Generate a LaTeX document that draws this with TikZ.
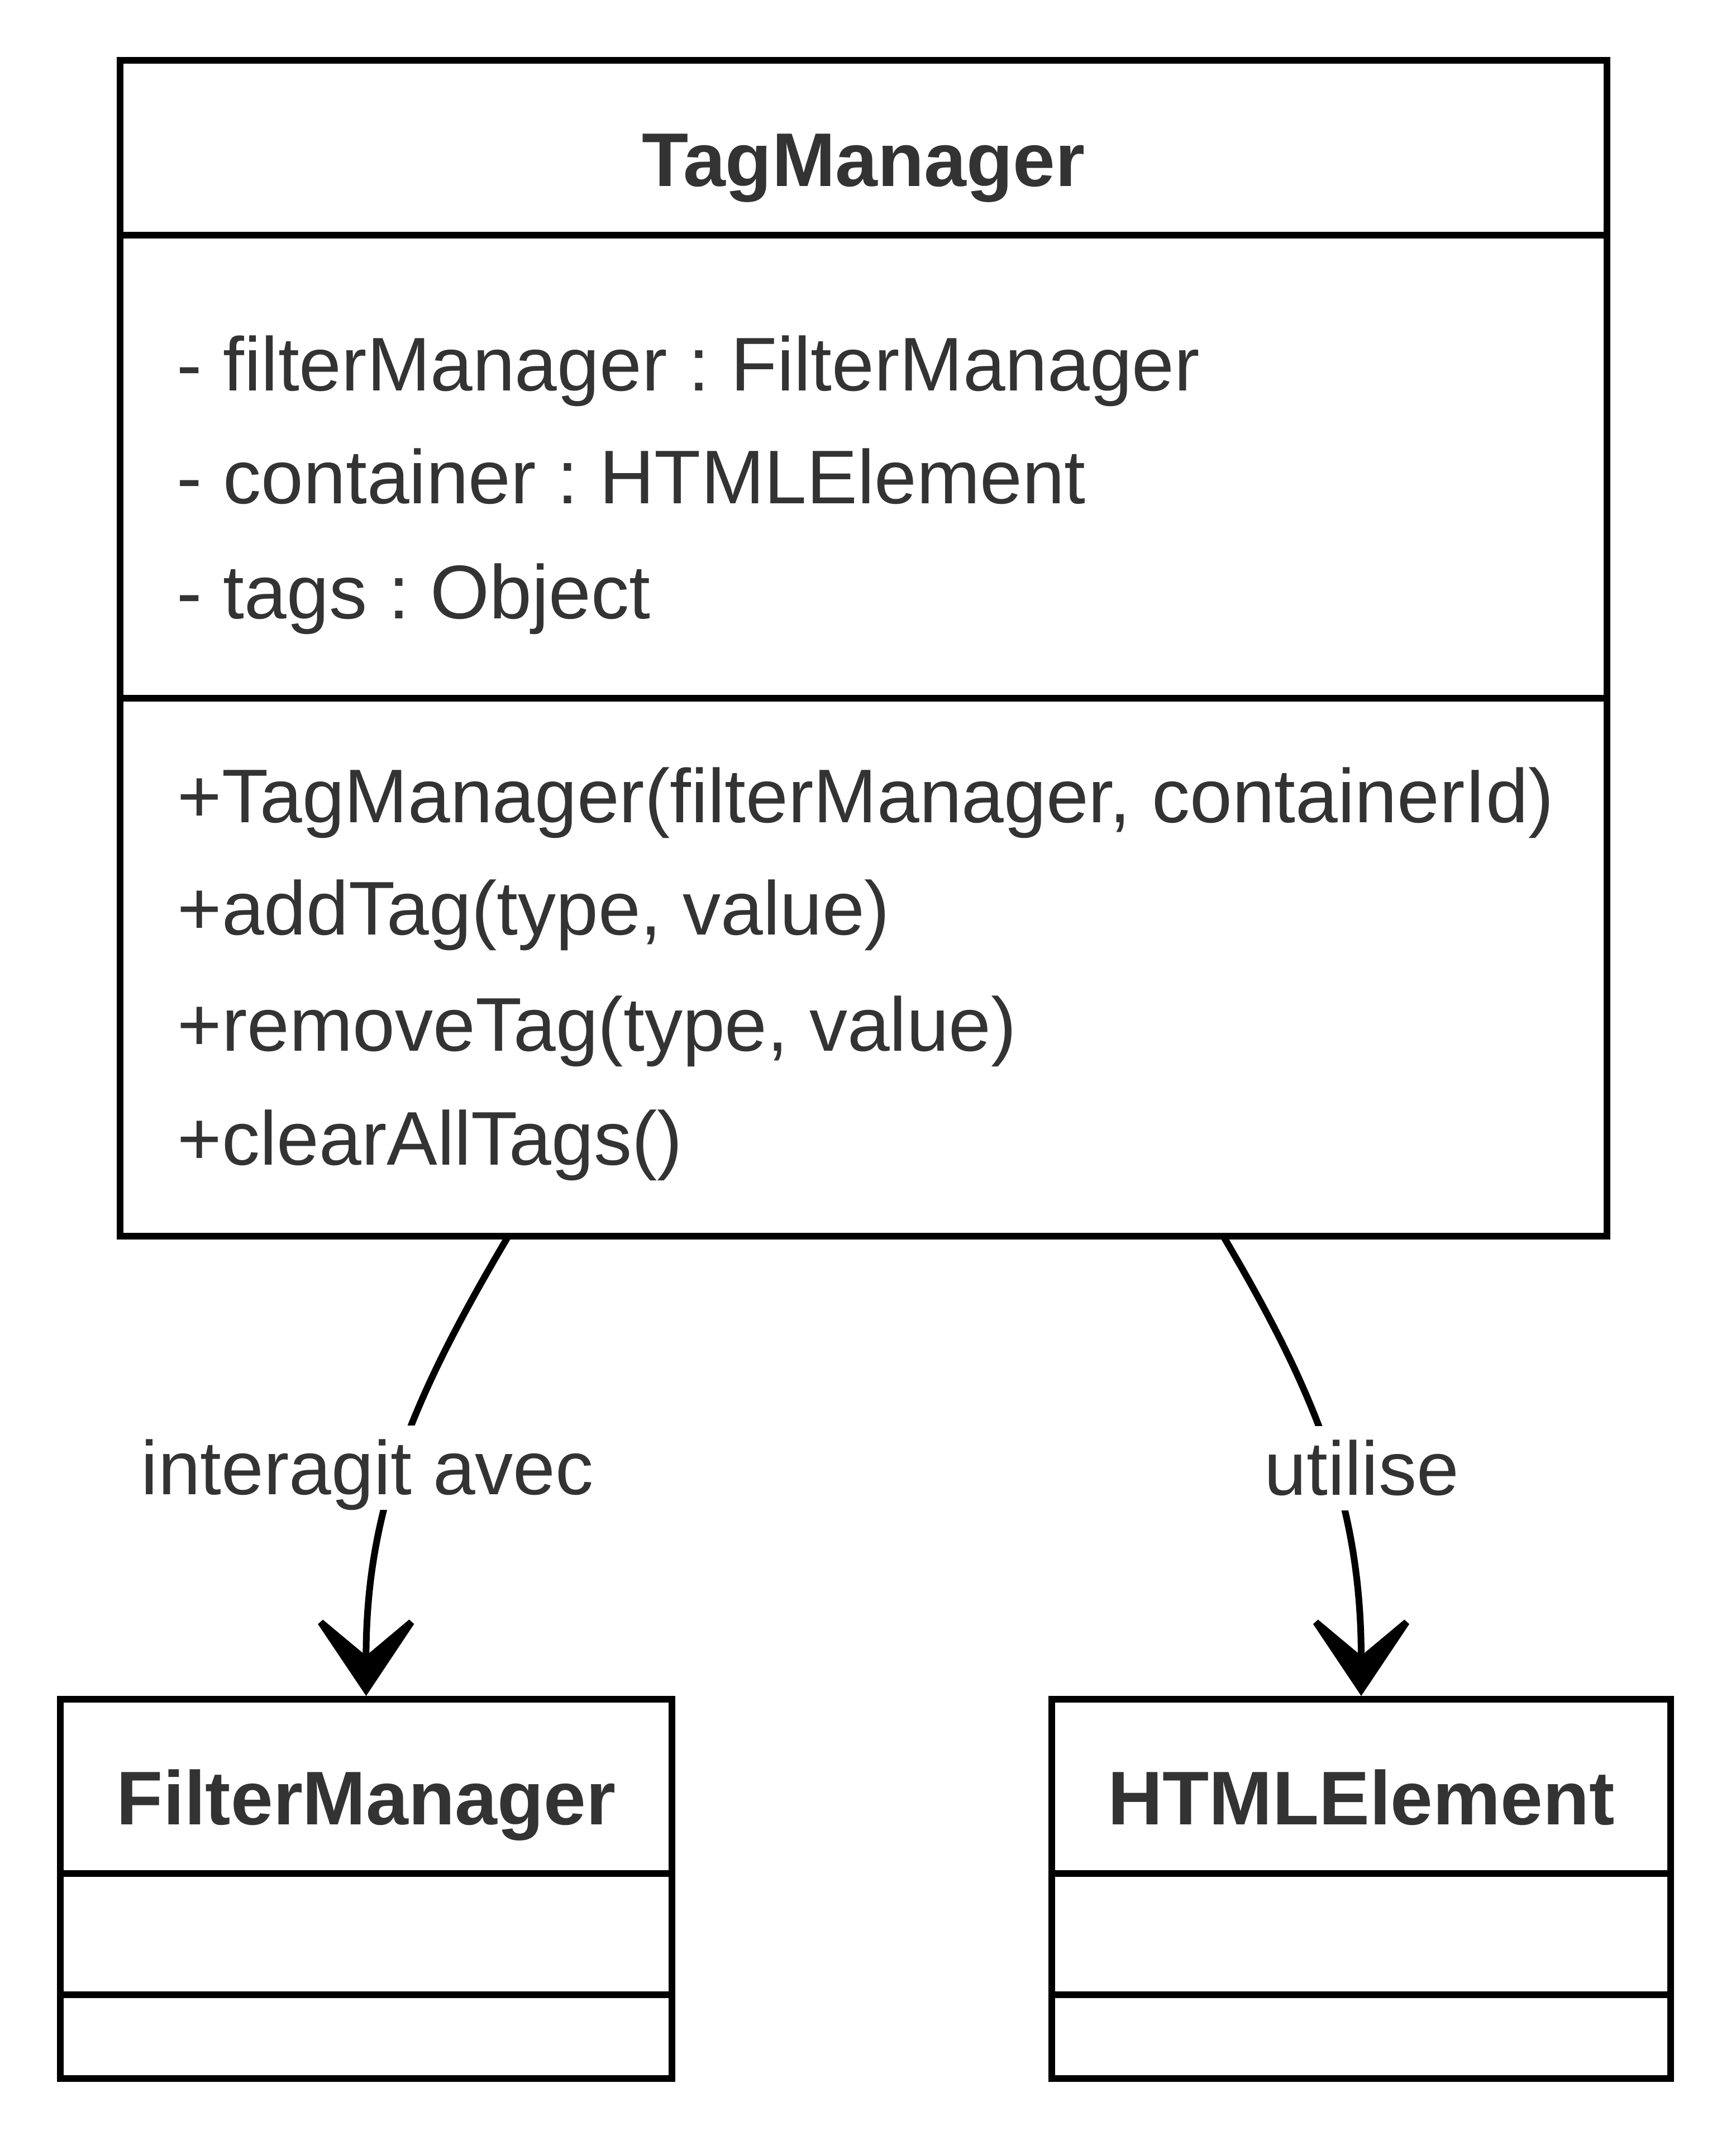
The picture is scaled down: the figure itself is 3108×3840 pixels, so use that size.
\documentclass[tikz,border=0pt]{standalone}
\usepackage{fontspec}
\setmainfont{Liberation Sans}
\frenchspacing
\usetikzlibrary{arrows.meta}
\definecolor{umltext}{HTML}{333333}
\tikzset{
	compart/.style = {draw, line width=1.25mm, inner sep=0pt, outer sep=0pt, anchor=north west},
	member/.style = {text=umltext, inner sep=0pt, anchor=base west, font=\fontsize{38.75}{46}\selectfont},
	classname/.style = {member, anchor=base, font=\fontsize{38.75}{46}\selectfont\bfseries},
	rel/.style = {line width=1.2mm, miter limit=3, -{Stealth[length=16.3mm, width=21.8mm, inset=9.1mm]}},
	rellabel/.style = {member, anchor=base, fill=white, text height=12.3mm, text depth=2.8mm}
}
\begin{document}
\begin{tikzpicture}[x=0.1mm, y=-0.1mm]
	\useasboundingbox (0,0) rectangle (3108,3840);
	
	% TagManager
	\node [compart, minimum width=266.2mm, minimum height=31.3mm] (tmHead) at (215,108) {};
	\node [compart, minimum width=266.2mm, minimum height=82.9mm] (tmAttr) at (tmHead.south west) {};
	\node [compart, minimum width=266.2mm, minimum height=96.3mm] (tmMeth) at (tmAttr.south west) {};
	\node [classname] (tmName) at (1546,333) {TagManager};
	\node [member] (tmAttrA) at (316,699) {- filterManager : FilterManager};
	\node [member] (tmAttrB) at (316,901) {- container : HTMLElement};
	\node [member] (tmAttrC) at (316,1107) {- tags : Object};
	\node [member] (tmMethA) at (317,1472) {+TagManager(filterManager, containerId)};
	\node [member] (tmMethB) at (317,1673) {+addTag(type, value)};
	\node [member] (tmMethC) at (317,1881) {+removeTag(type, value)};
	\node [member] (tmMethD) at (317,2085) {+clearAllTags()};
	
	% FilterManager
	\node [compart, minimum width=109.5mm, minimum height=31.2mm] (fmHead) at (108,3042) {};
	\node [compart, minimum width=109.5mm, minimum height=21.7mm] (fmAttr) at (fmHead.south west) {};
	\node [compart, minimum width=109.5mm, minimum height=15mm] (fmMeth) at (fmAttr.south west) {};
	\node [classname] (fmName) at (655.5,3266) {FilterManager};
	
	% HTMLElement
	\node [compart, minimum width=110.8mm, minimum height=31.2mm] (heHead) at (1883,3042) {};
	\node [compart, minimum width=110.8mm, minimum height=21.7mm] (heAttr) at (heHead.south west) {};
	\node [compart, minimum width=110.8mm, minimum height=15mm] (heMeth) at (heAttr.south west) {};
	\node [classname] (heName) at (2437,3266) {HTMLElement};
	
	\draw [rel] ([xshift=69.5mm]tmMeth.south west) .. controls (740,2500) and (655,2700) .. ([yshift=0.6mm]fmHead.north);
	\draw [rel] ([xshift=197.5mm]tmMeth.south west) .. controls (2360,2500) and (2437,2700) .. ([yshift=0.6mm]heHead.north);
	\node [rellabel] (lblFm) at (658,2675) {interagit avec};
	\node [rellabel] (lblHe) at (2438,2676) {utilise};
\end{tikzpicture}
\end{document}
